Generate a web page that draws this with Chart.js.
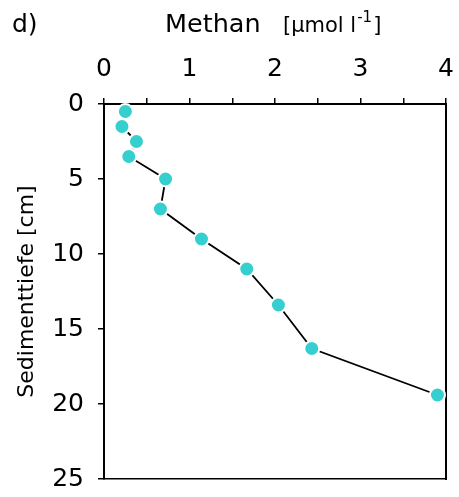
<!DOCTYPE html>
<html>
<head>
<meta charset="utf-8">
<script src="https://cdn.jsdelivr.net/npm/chart.js@4/dist/chart.umd.min.js"></script>
<style>
html,body{margin:0;padding:0;background:#fff;}
#wrap{position:relative;width:459px;height:497px;}
</style>
</head>
<body>
<div id="wrap"><canvas id="c" width="459" height="497"></canvas></div>
<script>
// Data
const depthCm = [0.5, 1.5, 2.5, 3.5, 5, 7, 9, 11, 13.4, 16.3, 19.4];
const methaneUmol = [0.25, 0.21, 0.38, 0.29, 0.72, 0.66, 1.14, 1.67, 2.04, 2.43, 3.9];
const xTickLabels = ['0', '1', '2', '3', '4'];
const yTickLabels = ['0', '5', '10', '15', '20', '25'];
const panelLabel = 'd)';
const xTitleMain = 'Methan';
const xTitleUnit = '[µmol l';
const xTitleSup = '-1';
const xTitleEnd = ']';
const yTitle = 'Sedimenttiefe [cm]';

const FONT = '"DejaVu Sans", Verdana, sans-serif';

const points = depthCm.map((d, i) => ({x: methaneUmol[i], y: d}));

const titlePlugin = {
  id: 'titlePlugin',
  afterDraw(chart) {
    const ctx = chart.ctx;
    ctx.save();
    ctx.fillStyle = '#000';
    ctx.textBaseline = 'alphabetic';
    ctx.textAlign = 'left';
    ctx.font = '25px ' + FONT;
    ctx.fillText(panelLabel, 12, 32);
    let x = 165;
    ctx.font = '25.5px ' + FONT;
    ctx.fillText(xTitleMain, x, 32);
    x = 283;
    ctx.font = '21px ' + FONT;
    ctx.fillText(xTitleUnit, x, 32);
    x += ctx.measureText(xTitleUnit).width + 1;
    ctx.font = '15px ' + FONT;
    ctx.fillText(xTitleSup, x, 22);
    x += ctx.measureText(xTitleSup).width + 1;
    ctx.font = '21px ' + FONT;
    ctx.fillText(xTitleEnd, x, 32);
    ctx.restore();
  }
};

new Chart(document.getElementById('c'), {
  type: 'scatter',
  data: {
    datasets: [{
      data: points,
      showLine: true,
      borderColor: '#000',
      borderWidth: 1.8,
      pointRadius: 7.5,
      pointHoverRadius: 7.5,
      pointBackgroundColor: '#35CFCF',
      pointBorderColor: '#fff',
      pointBorderWidth: 2,
      clip: false
    }]
  },
  options: {
    responsive: false,
    animation: false,
    events: [],
    layout: {padding: {left: 0, top: 0, right: 13, bottom: 18}},
    plugins: {legend: {display: false}, tooltip: {enabled: false}, title: {display: false}},
    scales: {
      x: {
        type: 'linear',
        position: 'top',
        min: 0, max: 4,
        afterFit(s) { s.height = 104; s.paddingLeft = 0; s.paddingRight = 0; },
        ticks: {
          stepSize: 0.5,
          autoSkip: false,
          maxRotation: 0,
          color: '#000',
          padding: 14,
          font: {family: FONT, size: 25},
          callback: (v) => Number.isInteger(v) ? xTickLabels[v] : ''
        },
        grid: {drawOnChartArea: false, drawTicks: true, tickLength: 6, color: '#000', lineWidth: 1.5},
        border: {display: true, color: '#000', width: 2}
      },
      x2: {
        type: 'linear',
        position: 'bottom',
        min: 0, max: 4,
        afterFit(s) { s.height = 0; s.paddingLeft = 0; s.paddingRight = 0; },
        ticks: {display: false},
        grid: {drawOnChartArea: false, drawTicks: false},
        border: {display: true, color: '#000', width: 1.5}
      },
      y: {
        type: 'linear',
        position: 'left',
        reverse: true,
        min: 0, max: 25,
        afterFit(s) { s.width = 104; s.paddingTop = 0; s.paddingBottom = 0; },
        ticks: {
          stepSize: 5,
          autoSkip: false,
          color: '#000',
          padding: 14,
          font: {family: FONT, size: 25},
          callback: (v) => yTickLabels[v / 5]
        },
        title: {display: true, text: yTitle, color: '#000', font: {family: FONT, size: 22}, padding: {top: 14, bottom: 0}},
        grid: {drawOnChartArea: false, drawTicks: true, tickLength: 6, color: '#000', lineWidth: 1.5},
        border: {display: true, color: '#000', width: 2}
      },
      y2: {
        type: 'linear',
        position: 'right',
        reverse: true,
        min: 0, max: 25,
        afterFit(s) { s.width = 0; s.paddingTop = 0; s.paddingBottom = 0; },
        ticks: {display: false},
        grid: {drawOnChartArea: false, drawTicks: false},
        border: {display: true, color: '#000', width: 2}
      }
    }
  },
  plugins: [titlePlugin]
});
</script>
</body>
</html>
